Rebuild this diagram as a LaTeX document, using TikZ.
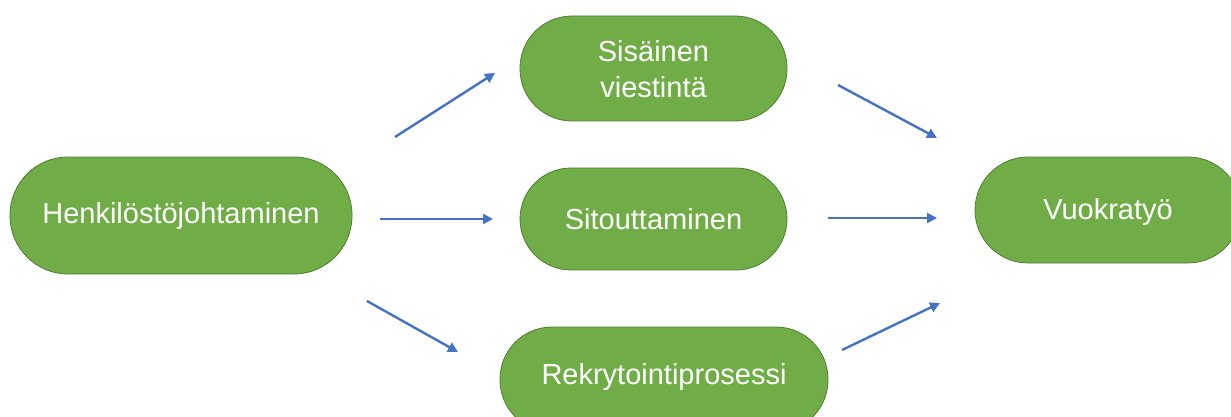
\documentclass[tikz,border=0pt]{standalone}
\usepackage{fontspec}
\setmainfont{Liberation Sans}
\usetikzlibrary{arrows.meta}
\definecolor{boxgreen}{HTML}{70AD47}
\definecolor{boxedge}{HTML}{507E32}
\definecolor{arrowblue}{HTML}{4472C4}
\begin{document}
\begin{tikzpicture}[x=1pt,y=-1pt,
  pill/.style={draw=boxedge, line width=0.8pt, fill=boxgreen, rounded corners=#1},
  lbl/.style={text=white, font=\fontsize{29}{36}\selectfont, align=center, inner sep=0pt},
  conn/.style={draw=arrowblue, line width=2.4pt, -{Triangle[length=10pt,width=10pt]}}]
\useasboundingbox (0,0) rectangle (1231,417);
\path[pill=58pt] (10,157) rectangle (352,274);
\node[lbl] (h) at (181,216) {Henkilöstöjohtaminen};
\path[pill=52pt] (520,16) rectangle (787,121);
\node[lbl] (s) at (653.5,69) {Sisäinen\\viestintä};
\path[pill=51pt] (520,168) rectangle (787,270);
\node[lbl] (t) at (653.5,219) {Sitouttaminen};
\path[pill=52pt] (500,327) rectangle (828,432);
\node[lbl] (r) at (664,377) {Rekrytointiprosessi};
\path[pill=53pt] (975,157) rectangle (1241,263);
\node[lbl] (v) at (1108,212) {Vuokratyö};
\coordinate (a1s) at (395,137); \coordinate (a1e) at (495,73);
\coordinate (a2s) at (380,219); \coordinate (a2e) at (493,219);
\coordinate (a3s) at (367,301); \coordinate (a3e) at (458,352);
\coordinate (b1s) at (838,85);  \coordinate (b1e) at (937,138);
\coordinate (b2s) at (828,218); \coordinate (b2e) at (937,218);
\coordinate (b3s) at (842,350); \coordinate (b3e) at (940,303);
\draw[conn] (a1s) -- (a1e);
\draw[conn] (a2s) -- (a2e);
\draw[conn] (a3s) -- (a3e);
\draw[conn] (b1s) -- (b1e);
\draw[conn] (b2s) -- (b2e);
\draw[conn] (b3s) -- (b3e);
\end{tikzpicture}
\end{document}
